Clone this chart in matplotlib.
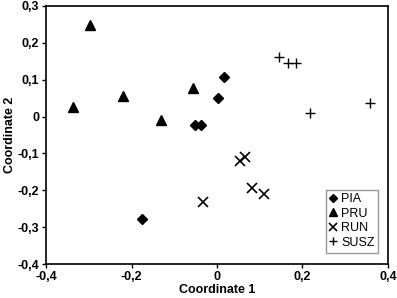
import matplotlib
matplotlib.use("Agg")
import matplotlib.pyplot as plt
from matplotlib.ticker import FuncFormatter, MultipleLocator

plt.rcParams['font.family'] = ['Liberation Sans', 'DejaVu Sans']

# PCoA coordinates
pia_x = [0.017, 0.002, -0.051, -0.037, -0.175]
pia_y = [0.106, 0.051, -0.022, -0.022, -0.279]
pru_x = [-0.297, -0.336, -0.221, -0.131, -0.057]
pru_y = [0.249, 0.027, 0.056, -0.008, 0.078]
run_x = [0.054, 0.066, 0.081, 0.111, -0.033]
run_y = [-0.121, -0.110, -0.194, -0.210, -0.232]
susz_x = [0.146, 0.166, 0.184, 0.218, 0.358]
susz_y = [0.162, 0.144, 0.144, 0.009, 0.036]

fig = plt.figure(figsize=(3.97, 2.98), dpi=100)
ax = fig.add_axes([0.116, 0.114, 0.861, 0.866])

ax.plot(pia_x, pia_y, 'D', color='black', markersize=5.5, label='PIA')
ax.plot(pru_x, pru_y, '^', color='black', markersize=7.5, label='PRU')
ax.plot(run_x, run_y, 'x', color='black', markersize=6.5, mew=1.2, label='RUN')
ax.plot(susz_x, susz_y, '+', color='black', markersize=6.5, mew=1.0, label='SUSZ')

ax.set_xlim(-0.4, 0.4)
ax.set_ylim(-0.4, 0.3)
ax.xaxis.set_major_locator(MultipleLocator(0.2))
ax.yaxis.set_major_locator(MultipleLocator(0.1))

def comma(v, pos):
    s = f"{v:.1f}".replace('.', ',')
    if s in ('0,0', '-0,0'):
        return '0'
    return s

ax.xaxis.set_major_formatter(FuncFormatter(comma))
ax.yaxis.set_major_formatter(FuncFormatter(comma))
ax.tick_params(direction='out', length=3, width=1, labelsize=9, pad=2)
for lab in ax.get_xticklabels() + ax.get_yticklabels():
    lab.set_fontweight('bold')
for sp in ax.spines.values():
    sp.set_linewidth(1.2)

ax.set_xlabel('Coordinate 1', fontsize=9, fontweight='bold', labelpad=1)
ax.set_ylabel('Coordinate 2', fontsize=9, fontweight='bold', labelpad=1)

leg = ax.legend(loc='lower right', fontsize=9, frameon=True, fancybox=False,
                edgecolor='gray', handlelength=0.6, handletextpad=0.3,
                borderpad=0.3, labelspacing=0.2, markerscale=0.8,
                bbox_to_anchor=(0.99, 0.02))
leg.get_frame().set_linewidth(1)

fig.savefig('out.png', dpi=100)
